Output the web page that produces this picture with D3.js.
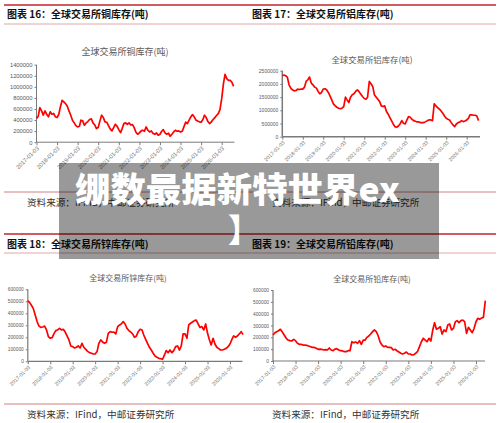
<!DOCTYPE html>
<html><head><meta charset="utf-8">
<script src="https://cdn.jsdelivr.net/npm/d3@7"></script>
<style>body{margin:0;background:#fff}svg{display:block}text{font-family:"Noto Sans CJK SC","Noto Sans",sans-serif}</style>
</head><body>
<svg id="c" width="500" height="423"></svg>
<script>
// ---- data (monthly readings, thousand tonnes, starting 2017-01-03) ----
const yearTicks = ["2017-01-03","2018-01-03","2019-01-03","2020-01-03","2021-01-03","2022-01-03","2023-01-03","2024-01-03","2025-01-03","2026-01-03"];
const copperK = [430,470,625,565,490,565,505,460,550,505,520,460,
445,505,637,757,727,697,650,565,487,397,349,300,
276,288,397,385,306,349,373,409,421,349,312,246,
264,385,487,445,367,361,300,240,204,264,324,288,
228,174,246,336,349,324,349,312,318,264,180,144,
168,204,216,198,276,216,186,204,156,144,168,126,
144,198,228,168,144,162,108,144,186,216,198,204,
186,198,276,361,336,397,457,499,457,397,385,367,
361,409,487,445,373,336,367,409,445,481,517,589,
787,1058,1226,1148,1118,1118,1082,1010];
const aluminiumK = [2310,2335,2310,2259,1967,1840,1777,1738,1751,1802,1789,1802,
1802,1878,2094,2157,2259,2030,1967,1878,1840,1713,1624,1675,
1802,1815,1777,1675,1548,1396,1244,1167,1117,1079,1066,1079,
1142,1497,1396,1294,1497,1586,1624,1713,1777,1700,1612,1523,
1447,1421,1497,2094,2005,1904,1586,1497,1421,1332,1167,1142,
1167,952,863,736,609,482,381,355,406,482,609,508,
482,635,761,736,660,609,584,558,558,533,533,533,
571,609,635,635,609,1244,1167,1104,1041,977,888,787,
698,660,635,533,444,381,482,533,558,609,571,596,
635,698,825,825,812,812,787,609];
const zincK = [505,489,467,439,386,331,294,283,286,294,261,206,
192,197,228,256,261,275,261,267,244,211,178,128,
122,111,117,128,111,150,117,100,83,72,67,61,
61,81,150,178,161,150,158,233,247,242,244,228,
289,303,311,331,311,275,256,244,228,200,211,247,
267,261,219,183,150,117,94,67,44,33,25,22,
17,53,89,72,94,72,89,122,128,94,128,228,
228,192,303,317,328,339,344,311,281,289,261,311,
233,178,136,192,144,117,106,94,94,100,108,122,
144,183,211,200,211,228,247,222];
const leadK = [220,239,248,256,268,245,220,194,177,172,169,183,
172,149,141,141,135,135,132,127,121,115,115,107,
99,101,99,93,96,93,110,93,87,101,104,93,
87,85,79,79,87,87,163,155,161,149,172,141,
177,177,200,211,228,248,262,248,211,161,135,121,
127,115,115,113,93,99,87,76,65,59,65,76,
59,59,51,54,65,82,121,163,192,177,163,192,
169,262,324,268,276,290,228,262,248,304,313,262,
276,332,341,324,341,346,332,234,285,262,239,276,
332,361,352,363,369,510];
const copperTicks = [0,200000,400000,600000,800000,1000000,1200000,1400000];
const aluminiumTicks = [0,500000,1000000,1500000,2000000,2500000];
const zincTicks = [0,100000,200000,300000,400000,500000,600000];
const leadTicks = [0,100000,200000,300000,400000,500000,600000];
const panelTitles = ["图表 16：全球交易所铜库存(吨)","图表 17：全球交易所铝库存(吨)","图表 18：全球交易所锌库存(吨)","图表 19：全球交易所铅库存(吨)"];
const chartTitles = ["全球交易所铜库存(吨)","全球交易所铝库存(吨)","全球交易所锌库存(吨)","全球交易所铅库存(吨)"];
const sourceText = "资料来源：IFind，中邮证券研究所";

const svg = d3.select("#c");
const parse = d3.timeParse("%Y-%m-%d");
const start = parse(yearTicks[0]);

// ---- page frame ----
function hline(y, color, w){ svg.append("line").attr("x1",4).attr("x2",496).attr("y1",y).attr("y2",y).attr("stroke",color).attr("stroke-width",w); }
[5,234].forEach(y=>hline(y,"#c0262b",1.4));
[24,253].forEach(y=>hline(y,"#e3a6a6",1));
[192,404].forEach(y=>hline(y,"#d08080",1));
const titlePos = [[7,18],[252,18],[7,248],[252,248]];
panelTitles.forEach((t,i)=>svg.append("text").attr("x",titlePos[i][0]).attr("y",titlePos[i][1]).attr("font-size",10).attr("font-weight","bold").attr("fill","#111").text(t));
[[27,206],[272,206],[27,418],[272,418]].forEach(p=>svg.append("text").attr("x",p[0]).attr("y",p[1]).attr("font-size",9.6).attr("fill","#333").text(sourceText));

// ---- charts ----
const charts = [
 {vals:copperK, ticks:copperTicks, title:chartTitles[0], tx:125, ty:51, tfs:9, x0:36.5, x9:221.7, xEnd:234.5, yTop:64.7, yBot:142.2, max:1400000, yfs:5.8, xfs:5.8, aw:1},
 {vals:aluminiumK, ticks:aluminiumTicks, title:chartTitles[1], tx:372, ty:59, tfs:8.4, x0:282.3, x9:466.7, xEnd:480, yTop:70.7, yBot:136.7, max:2500000, yfs:5, xfs:5.2, aw:1.5},
 {vals:zincK, ticks:zincTicks, title:chartTitles[2], tx:128, ty:277.7, tfs:8, x0:27.8, x9:230, xEnd:242.5, yTop:289.3, yBot:361.3, max:600000, yfs:4.8, xfs:5.2, aw:1.2},
 {vals:leadK, ticks:leadTicks, title:chartTitles[3], tx:372, ty:278, tfs:8, x0:273, x9:476, xEnd:485, yTop:290, yBot:361, max:600000, yfs:4.8, xfs:5.2, aw:1.2}
];

charts.forEach(c=>{
  const x = d3.scaleTime().domain([parse(yearTicks[0]), parse(yearTicks[9])]).range([c.x0, c.x9]);
  const y = d3.scaleLinear().domain([0, c.max]).range([c.yBot, c.yTop]);
  const g = svg.append("g");
  g.append("text").attr("x",c.tx).attr("y",c.ty).attr("text-anchor","middle").attr("dominant-baseline","central")
    .attr("font-size",c.tfs).attr("fill","#595959").text(c.title);
  const ya = g.append("g").attr("transform",`translate(${c.x0},0)`)
    .call(d3.axisLeft(y).tickValues(c.ticks).tickSize(2).tickPadding(2).tickFormat(d3.format("d")));
  ya.select(".domain").attr("stroke","#7a7a7a").attr("stroke-width",c.aw).attr("d",`M0,${c.yTop}V${c.yBot}`);
  ya.selectAll(".tick line").attr("stroke","#7a7a7a");
  ya.selectAll(".tick text").attr("font-size",c.yfs).attr("fill","#595959").style("font-family","'Liberation Sans',Arial,sans-serif");
  const xa = g.append("g").attr("transform",`translate(0,${c.yBot})`)
    .call(d3.axisBottom(x).tickValues(yearTicks.map(parse)).tickSize(3).tickFormat(d3.timeFormat("%Y-%m-%d")));
  xa.select(".domain").attr("stroke","#7a7a7a").attr("stroke-width",c.aw).attr("d",`M${c.x0},0H${c.xEnd}`);
  xa.selectAll(".tick line").attr("stroke","#7a7a7a");
  xa.selectAll(".tick text").attr("font-size",c.xfs).attr("fill","#777").style("font-family","'Liberation Sans',Arial,sans-serif")
    .attr("x",0).attr("y",0).attr("dy","0.35em").attr("text-anchor","end")
    .attr("transform","translate(1,5) rotate(-45)");
  const data = c.vals.map((v,i)=>({d:d3.timeMonth.offset(start,i), v:v*1000}));
  g.append("path").datum(data).attr("fill","none").attr("stroke","#ff0000").attr("stroke-width",1.7)
    .attr("stroke-linejoin","round")
    .attr("d", d3.line().x(d=>x(d.d)).y(d=>y(d.v)));
});

// ---- overlay banner ----
svg.append("rect").attr("x",59).attr("y",163).attr("width",380).attr("height",96).attr("fill","rgba(0,0,0,0.4)");
svg.append("text").attr("x",75).attr("y",202).attr("font-size",34).attr("font-weight",900).attr("fill","#fff")
  .attr("textLength",325).attr("lengthAdjust","spacingAndGlyphs").text("绷数最据新特世界ex");
svg.append("text").attr("x",228).attr("y",242).attr("font-size",32).attr("font-weight",900).attr("fill","#fff").text("】");
</script>
</body></html>
